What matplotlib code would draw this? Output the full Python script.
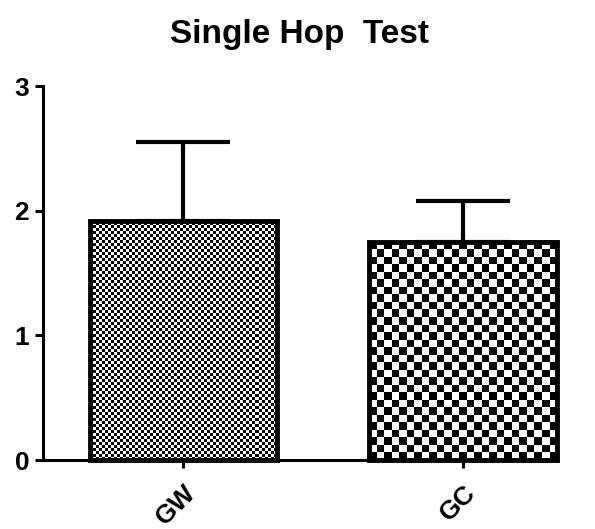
import numpy as np
import matplotlib
matplotlib.use("Agg")
from matplotlib import pyplot as plt

plt.rcParams["font.family"] = ["Liberation Sans", "DejaVu Sans"]
plt.rcParams["font.weight"] = "bold"

groups = ["GW", "GC"]
means = [1.92, 1.75]
sd = [0.63, 0.33]
cell_px = [3.0, 7.5]  # checker square size in pixels for each bar

fig = plt.figure(figsize=(5.95, 5.29), dpi=100)
ax = fig.add_axes([0.0723, 0.1304, 0.8637, 0.707])

x = np.arange(len(groups))
ax.set_xlim(-0.502, 1.335)
ax.set_ylim(0, 3)

# error bars (upper only)
ax.errorbar(x, means, yerr=[np.zeros(len(sd)), sd], fmt="none", ecolor="black",
            elinewidth=3, capsize=34, capthick=3, zorder=1)

bars = ax.bar(x, means, width=0.67, facecolor="none", edgecolor="black",
              linewidth=3.5, zorder=3, clip_on=False)

# checkerboard fill clipped to each bar
fig_w, fig_h = fig.get_size_inches() * fig.dpi
pos = ax.get_position()
px_x = pos.width * fig_w / (1.335 + 0.502)
px_y = pos.height * fig_h / 3.0
for b, c in zip(bars, cell_px):
    x0, y0 = b.get_x(), b.get_y()
    w, h = b.get_width(), b.get_height()
    nx = int(np.ceil(w * px_x / c))
    ny = int(np.ceil(h * px_y / c))
    board = (np.indices((ny, nx)).sum(axis=0) % 2).astype(float)
    img = ax.imshow(board, cmap="gray", interpolation="nearest", origin="lower",
                    extent=[x0, x0 + nx * c / px_x, y0, y0 + ny * c / px_y],
                    aspect="auto", zorder=2)
    img.set_clip_path(b)
ax.set_xlim(-0.502, 1.335)
ax.set_ylim(0, 3)

ax.spines["top"].set_visible(False)
ax.spines["right"].set_visible(False)
ax.spines["left"].set_linewidth(2.2)
ax.spines["bottom"].set_linewidth(2.2)

ax.set_yticks([0, 1, 2, 3])
ax.set_xticks(x)
ax.set_xticklabels(groups, rotation=45, ha="right", rotation_mode="anchor")
ax.tick_params(axis="both", width=2.2, length=6, labelsize=19)
ax.tick_params(axis="x", pad=9)
ax.tick_params(axis="y", pad=4)

ax.set_title("Single Hop  Test", fontsize=24, fontweight="bold", pad=31)

fig.savefig("out.png", dpi=100)
